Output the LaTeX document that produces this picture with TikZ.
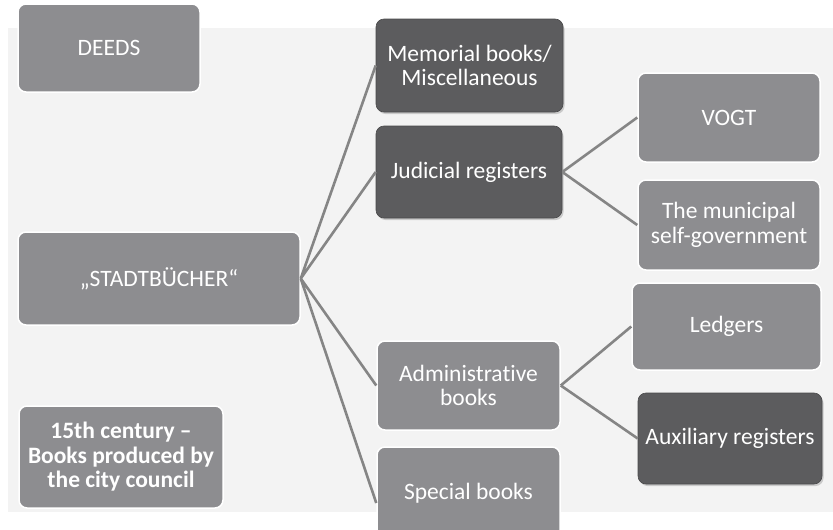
\documentclass[tikz,border=0pt]{standalone}
\usepackage{fontspec}
\setmainfont{Carlito}[Ligatures=NoCommon]
\usetikzlibrary{shadows}

\definecolor{boxgray}{HTML}{8D8D90}
\definecolor{boxdark}{HTML}{5C5C5E}
\definecolor{linegray}{HTML}{858585}
\definecolor{backgray}{HTML}{F3F3F3}

\tikzset{
  lightbox/.style={rectangle, rounded corners=8pt, fill=boxgray, draw=white,
    line width=1.5pt, text=white, align=center, inner sep=2pt,
    font=\fontsize{23.5}{24.5}\selectfont},
  darkbox/.style={lightbox, fill=boxdark, draw=boxdark!80!black, line width=0.6pt,
    drop shadow={shadow xshift=1.5pt, shadow yshift=-2pt, opacity=0.35}},
  branch/.style={draw=linegray, line width=2.6pt}
}

\begin{document}
\begin{tikzpicture}[x=1pt,y=-1pt]
  \useasboundingbox (0,0) rectangle (833,530);
  \clip (0,0) rectangle (833,530);
  % Background panel
  \fill[backgray] (8,28) rectangle (833,512);
  % Left column
  \node[lightbox, minimum width=182pt, minimum height=88pt] (deeds) at (109,48) {DEEDS};
  \node[lightbox, minimum width=282pt, minimum height=93pt] (stadt) at (159,278.5) {„STADTBÜCHER“};
  \node[lightbox, minimum width=204pt, minimum height=102pt,
    font=\fontsize{23.5}{24.5}\selectfont\bfseries] (century) at (121,457)
    {15th century --\\Books produced by\\the city council};
  % Middle column
  \node[darkbox, minimum width=187pt, minimum height=93pt] (memorial) at (469.5,65.5)
    {Memorial books/\\Miscellaneous};
  \node[darkbox, minimum width=186pt, minimum height=92pt] (judicial) at (469,172)
    {Judicial registers};
  \node[lightbox, minimum width=183pt, minimum height=89pt] (admin) at (468.5,385.5)
    {Administrative\\books};
  \node[lightbox, minimum width=183pt, minimum height=92pt] (special) at (468.5,493)
    {Special books};
  % Right column
  \node[lightbox, minimum width=182pt, minimum height=89pt] (vogt) at (729,117.5) {VOGT};
  \node[lightbox, minimum width=182pt, minimum height=90pt] (municipal) at (729,225)
    {The municipal\\self-government};
  \node[lightbox, minimum width=189pt, minimum height=87pt] (ledgers) at (726.5,326.5) {Ledgers};
  \node[darkbox, minimum width=184pt, minimum height=91pt] (auxiliary) at (730,438.5)
    {Auxiliary registers};
  % Connectors
  \path[branch] (stadt.east) -- (memorial.west)
                (stadt.east) -- (judicial.west)
                (stadt.east) -- (admin.west)
                (stadt.east) -- ([yshift=-10pt]special.west);
  \path[branch] (judicial.east) -- (vogt.west)
                (judicial.east) -- (municipal.west);
  \path[branch] (admin.east) -- (ledgers.west)
                (admin.east) -- (auxiliary.west);
\end{tikzpicture}
\end{document}
